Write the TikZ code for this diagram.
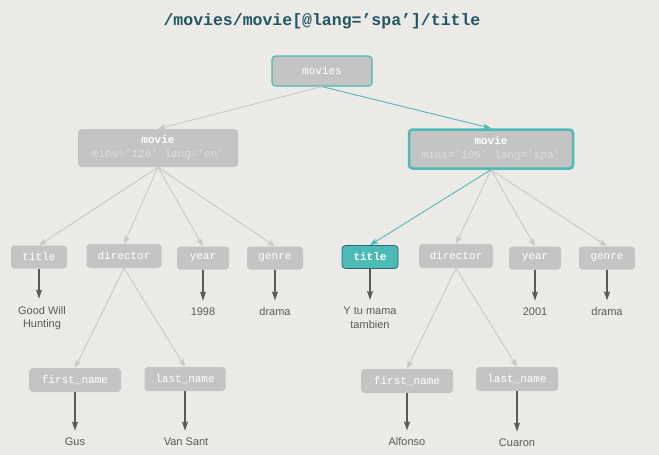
\documentclass[tikz,border=0pt]{standalone}
\usepackage{fontspec}
\setmainfont{Liberation Sans}
\newfontfamily\monofont{Liberation Mono}
\usetikzlibrary{arrows.meta}
\definecolor{bgcol}{HTML}{EBEAE6}
\definecolor{boxcol}{HTML}{C4C4C4}
\definecolor{attrcol}{HTML}{DDDDDB}
\definecolor{tealcol}{HTML}{4DBAB5}
\definecolor{darkteal}{HTML}{1E5662}
\definecolor{edgecol}{HTML}{C9C8C5}
\definecolor{valcol}{HTML}{5A5A5A}
\tikzset{
  elem/.style={fill=boxcol, rounded corners=3.5pt, text=white, inner sep=0pt,
    font=\monofont\fontsize{11}{14}\selectfont, minimum height=24pt},
  val/.style={text=valcol, font=\fontsize{11}{13.5}\selectfont, align=center},
  edge/.style={draw=edgecol, line width=0.9pt, -{Stealth[length=8pt,width=6pt,inset=2pt]}},
  hitedge/.style={edge, draw=tealcol},
  valedge/.style={draw=valcol, line width=1.1pt, -{Stealth[length=9pt,width=6pt,inset=1.5pt]}, shorten >=4pt}
}
\begin{document}
\begin{tikzpicture}[x=1pt,y=-1pt]
  \fill[bgcol] (0,0) rectangle (659,455);
  \useasboundingbox (0,0) rectangle (659,455);
  % query
  \node[text=darkteal, font=\monofont\bfseries\fontsize{16.5}{18}\selectfont] (query) at (322,21) {/movies/movie[@lang=’spa’]/title};
  % root and movies
  \node[elem, draw=tealcol, line width=1.2pt, minimum width=100pt, minimum height=30pt] (movies) at (322,71) {movies};
  \node[elem, minimum width=160pt, minimum height=38pt, align=center] (movieA) at (158,148)
    {\textbf{movie}\\\textcolor{attrcol}{mins=’126’ lang=’en’}};
  \node[elem, draw=tealcol, line width=2.5pt, minimum width=164pt, minimum height=39pt, align=center] (movieB) at (491,149)
    {\textbf{movie}\\\textcolor{attrcol}{mins=’106’ lang=’spa’}};
  % children of first movie
  \node[elem, minimum width=56pt, minimum height=23pt] (titleA) at (39,257) {title};
  \node[elem, minimum width=75pt] (dirA) at (124,256) {director};
  \node[elem, minimum width=52pt, minimum height=23pt] (yearA) at (203,258) {year};
  \node[elem, minimum width=56pt, minimum height=23pt] (genreA) at (275,258) {genre};
  % children of second movie
  \node[elem, fill=tealcol, draw=darkteal!80!tealcol, line width=0.8pt, minimum width=56pt, minimum height=23pt, font=\monofont\bfseries\fontsize{11}{14}\selectfont] (titleB) at (370,257) {title};
  \node[elem, minimum width=74pt] (dirB) at (456,256) {director};
  \node[elem, minimum width=52pt, minimum height=23pt] (yearB) at (535,258) {year};
  \node[elem, minimum width=56pt, minimum height=23pt] (genreB) at (607,258) {genre};
  % names
  \node[elem, minimum width=92pt] (firstA) at (75,380) {first\_name};
  \node[elem, minimum width=81pt] (lastA) at (185,379) {last\_name};
  \node[elem, minimum width=92pt] (firstB) at (407,381) {first\_name};
  \node[elem, minimum width=82pt] (lastB) at (517,379) {last\_name};
  % values
  \node[val] (vTitleA) at (42,318) {Good Will\\Hunting};
  \node[val] (vYearA) at (203,312) {1998};
  \node[val] (vGenreA) at (275,312) {drama};
  \node[val] (vTitleB) at (370,318) {Y tu mama\\tambien};
  \node[val] (vYearB) at (535,312) {2001};
  \node[val] (vGenreB) at (607,312) {drama};
  \node[val] (vFirstA) at (75,442) {Gus};
  \node[val] (vLastA) at (186,442) {Van Sant};
  \node[val] (vFirstB) at (407,442) {Alfonso};
  \node[val] (vLastB) at (517,443) {Cuaron};
  % tree edges
  \draw[edge] (movies.south) -- (movieA.north);
  \draw[hitedge] (movies.south) -- (movieB.north);
  \foreach \c in {titleA,dirA,yearA,genreA}
    \draw[edge] (movieA.south) -- (\c.north);
  \foreach \c in {dirB,yearB,genreB}
    \draw[edge] (movieB.south) -- (\c.north);
  \draw[hitedge] (movieB.south) -- (titleB.north);
  \foreach \p/\c in {dirA/firstA,dirA/lastA,dirB/firstB,dirB/lastB}
    \draw[edge] (\p.south) -- (\c.north);
  % text values
  \foreach \p/\v in {titleA/vTitleA,yearA/vYearA,genreA/vGenreA,titleB/vTitleB,yearB/vYearB,genreB/vGenreB,firstA/vFirstA,lastA/vLastA,firstB/vFirstB,lastB/vLastB}
    \draw[valedge] (\p.south) -- (\p.south |- \v.north);
\end{tikzpicture}
\end{document}
